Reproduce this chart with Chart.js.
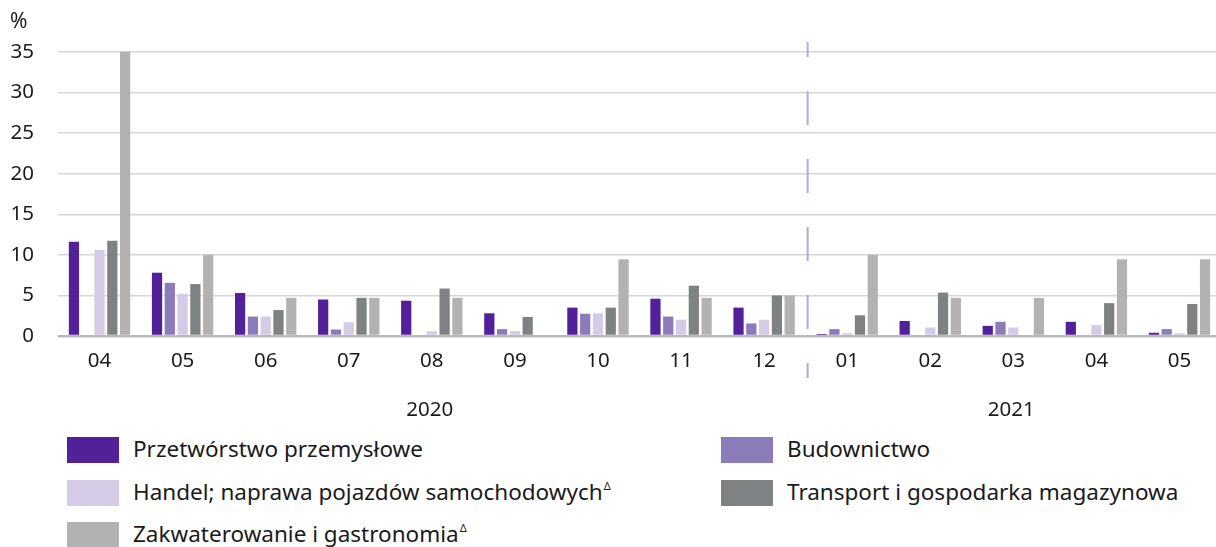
<!DOCTYPE html>
<html lang="pl">
<head>
<meta charset="utf-8">
<script src="https://cdn.jsdelivr.net/npm/chart.js@4/dist/chart.umd.min.js"></script>
<style>
  html, body { margin: 0; padding: 0; background: #fff; }
  body { width: 1216px; height: 547px; overflow: hidden; position: relative; font-family: "Noto Sans", sans-serif; color: #1a1a1a; }
  #wrap { position: absolute; left: 0; top: 0; width: 1216px; height: 430px; overflow: hidden; }
  #box { width: 1221px; height: 430px; }
  .legend { position: absolute; left: 0; top: 0; }
  .item { position: absolute; display: flex; align-items: center; font-size: 22.5px; white-space: nowrap; }
  .item span { position: relative; top: -2px; }
  .sw { width: 52px; height: 26px; margin-right: 14px; }
  .item sup { font-size: 11px; vertical-align: 10px; margin-left: 1px; }
</style>
</head>
<body>
<div id="wrap"><div id="box"><canvas id="chart"></canvas></div></div>
<div class="legend" id="legend"></div>
<script>
// Miesiące (kategorie osi X)
const months = ['04', '05', '06', '07', '08', '09', '10', '11', '12', '01', '02', '03', '04', '05'];
// Lata: etykieta, indeks pierwszego i ostatniego miesiąca
const years = [
  { label: '2020', from: 0, to: 8 },
  { label: '2021', from: 9, to: 13 }
];

// Serie danych (%)
const przetworstwo = [11.6, 7.8, 5.3, 4.5, 4.35, 2.8, 3.5, 4.6, 3.5, 0.25, 1.85, 1.25, 1.75, 0.4];
const budownictwo = [null, 6.55, 2.4, 0.8, null, 0.85, 2.75, 2.4, 1.55, 0.85, null, 1.75, null, 0.85];
const handel = [10.6, 5.2, 2.4, 1.7, 0.6, 0.6, 2.8, 2.0, 2.0, 0.35, 1.05, 1.05, 1.35, 0.35];
const transport = [11.75, 6.4, 3.2, 4.7, 5.85, 2.35, 3.5, 6.2, 5.0, 2.55, 5.35, null, 4.05, 3.95];
const zakwaterowanie = [35, 10.0, 4.7, 4.7, 4.7, null, 9.45, 4.7, 5.0, 10.0, 4.7, 4.7, 9.45, 9.45];

const yTicks = [0, 5, 10, 15, 20, 25, 30, 35];

const series = [
  { name: 'Przetwórstwo przemysłowe', data: przetworstwo, color: '#52219a', mark: false },
  { name: 'Budownictwo', data: budownictwo, color: '#8c7bb9', mark: false },
  { name: 'Handel; naprawa pojazdów samochodowych', data: handel, color: '#d4cce6', mark: true },
  { name: 'Transport i gospodarka magazynowa', data: transport, color: '#7f8282', mark: false },
  { name: 'Zakwaterowanie i gastronomia', data: zakwaterowanie, color: '#b2b2b2', mark: true }
];

const FONT = '"Noto Sans", sans-serif';

// Linia przerywana między latami, etykiety lat i znak %
const extras = {
  id: 'extras',
  afterDatasetsDraw(chart) {
    const ctx = chart.ctx;
    const x = chart.scales.x;
    ctx.save();
    // przerywana linia na granicy lat
    const bx = (x.getPixelForValue(years[0].to) + x.getPixelForValue(years[1].from)) / 2 + 2;
    ctx.strokeStyle = '#b6a8d8';
    ctx.lineWidth = 2;
    ctx.setLineDash([34, 34]);
    ctx.lineDashOffset = 19;
    ctx.beginPath();
    ctx.moveTo(bx, 42);
    ctx.lineTo(bx, 378);
    ctx.stroke();
    ctx.setLineDash([]);
    // etykiety lat
    ctx.fillStyle = '#1a1a1a';
    ctx.font = '20.5px ' + FONT;
    ctx.textAlign = 'center';
    ctx.textBaseline = 'middle';
    years.forEach(y => {
      const cx = (x.getPixelForValue(y.from) + x.getPixelForValue(y.to)) / 2;
      ctx.fillText(y.label, cx - 2, 410);
    });
    // jednostka
    ctx.font = '21px ' + FONT;
    ctx.textAlign = 'left';
    ctx.fillText('%', 10, 22);
    ctx.restore();
  }
};

new Chart(document.getElementById('chart'), {
  type: 'bar',
  data: {
    labels: months,
    datasets: series.map(s => ({
      label: s.name,
      data: s.data,
      backgroundColor: s.color,
      borderWidth: 0,
      categoryPercentage: 0.77,
      barPercentage: 0.8
    }))
  },
  options: {
    responsive: true,
    maintainAspectRatio: false,
    animation: false,
    layout: { padding: { top: 52, right: 0, bottom: 0, left: 0 } },
    plugins: {
      legend: { display: false },
      tooltip: { enabled: false }
    },
    scales: {
      x: {
        grid: { display: false, drawTicks: false },
        border: { display: false },
        ticks: { color: '#1a1a1a', font: { family: FONT, size: 20.5 }, padding: 13, maxRotation: 0 },
        afterFit(scale) { scale.height = 94; }
      },
      y: {
        min: 0,
        max: 35,
        afterBuildTicks(scale) { scale.ticks = yTicks.map(v => ({ value: v })); },
        grid: {
          drawTicks: false,
          color: c => c.tick.value === 0 ? '#b9b9b9' : '#d6d6d6',
          lineWidth: c => c.tick.value === 0 ? 2.5 : 1.5
        },
        border: { display: false },
        ticks: { color: '#1a1a1a', font: { family: FONT, size: 20.5 }, padding: 24 },
        afterFit(scale) { scale.width = 58; }
      }
    }
  },
  plugins: [extras]
});

// Legenda w dwóch kolumnach
const legendPos = [
  [67, 450], [721, 450],
  [67, 493], [721, 493],
  [67, 535]
];
const legend = document.getElementById('legend');
series.forEach((s, i) => {
  const el = document.createElement('div');
  el.className = 'item';
  el.style.left = legendPos[i][0] + 'px';
  el.style.top = (legendPos[i][1] - 13) + 'px';
  el.style.height = '26px';
  el.innerHTML = '<div class="sw" style="background:' + s.color + '"></div><span>' + s.name + (s.mark ? '<sup>&#916;</sup>' : '') + '</span>';
  legend.appendChild(el);
});
</script>
</body>
</html>
